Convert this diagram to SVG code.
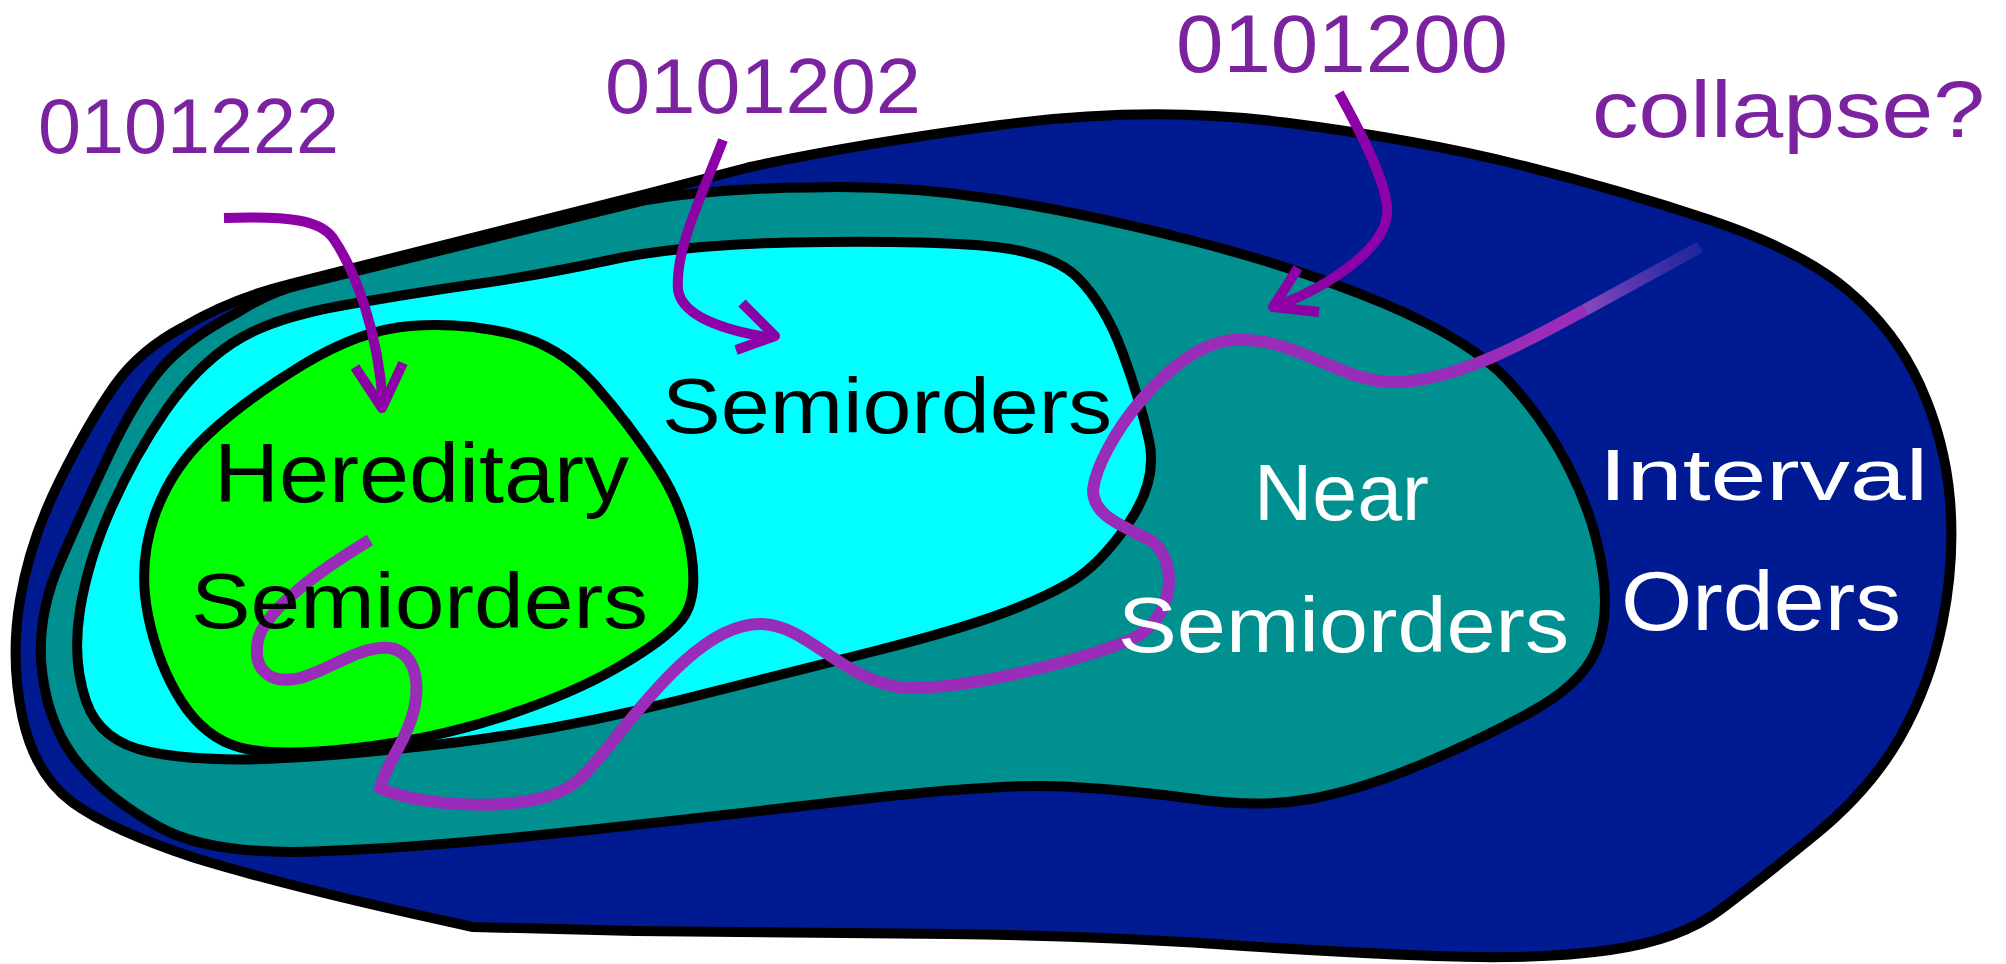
<svg xmlns="http://www.w3.org/2000/svg" width="2006" height="964" viewBox="0 0 2006 964">
<style>
.blob{stroke:#000;stroke-width:10;stroke-linejoin:round}
.lbl{font-family:"Liberation Sans","DejaVu Sans",sans-serif}
.pl{fill:#7b22a0}
.bk{fill:#000}
.wh{fill:#fff}
.arr{fill:none;stroke:#8c02a6;stroke-width:10;stroke-linecap:butt;stroke-linejoin:round}
.wave{fill:none;stroke:#9a2cba;stroke-width:12;stroke-linecap:butt;stroke-linejoin:round}
</style>
<defs>
<linearGradient id="fade" gradientUnits="userSpaceOnUse" x1="1585" y1="310" x2="1700" y2="247">
<stop offset="0" stop-color="#9a4cc4" stop-opacity="0.9"/>
<stop offset="1" stop-color="#5a3ab0" stop-opacity="0.35"/>
</linearGradient>
</defs>
<rect width="2006" height="964" fill="#fff"/>
<g id="interval-orders">
<path class="blob" fill="#001a91" d="M 646,194 L 748,167.5 Q 850,145 1000,125 Q 1150,105 1285,122.5 Q 1420,140 1520,165 Q 1620,190 1710,220 Q 1800,250 1847.5,290 Q 1895,330 1920,385 Q 1945,440 1950,500 Q 1955,560 1942.5,622.5 Q 1930,685 1900,737.5 Q 1870,790 1815,835 Q 1760,880 1720,910 Q 1680,940 1610,950 Q 1540,960 1435,956 Q 1330,952 1215,944 Q 1100,936 950,934 Q 800,932 635,931 L 473,927 Q 300,890 195,858 Q 110,830 72.5,802.5 Q 35,775 22.5,717.5 Q 10,660 20,600 Q 30,540 60,480 Q 90,420 115,385 Q 140,350 182.5,327.5 Q 230,299 290,284 L 646,194 Z"/>
</g>
<g id="near-semiorders">
<path class="blob" fill="#009090" d="M 810,187.5 Q 900,185 990,198.5 Q 1080,212 1190,240 Q 1300,268 1385,304 Q 1470,340 1507.5,380 Q 1545,420 1570,470 Q 1595,520 1602.5,570 Q 1610,620 1595,652.5 Q 1580,685 1530,712.5 Q 1480,740 1420,765 Q 1360,790 1310,799 Q 1260,808 1195,799 Q 1130,790 1065,786.5 Q 1000,783 850,800.5 Q 700,818 560,833 Q 420,848 315,851.5 Q 210,855 160,827.5 Q 110,800 80,765 Q 50,730 42.5,675 Q 35,620 60,562.5 Q 85,505 110,452.5 Q 135,400 160,370 Q 185,340 237.5,312.5 Q 270,292 300,285 L 646,200 Q 720,188 810,187.5 Z"/>
</g>
<g id="semiorders">
<path class="blob" fill="#00ffff" d="M 790,242.5 Q 900,240 975,245 Q 1050,250 1077.5,277.5 Q 1105,305 1122.5,352.5 Q 1140,400 1149,440 Q 1158,480 1129,522.5 Q 1100,565 1070,582.5 Q 1040,600 995,616 Q 950,632 875,651 Q 800,670 680,700 Q 560,730 455,742.5 Q 350,755 275,758.5 Q 200,762 150,752 Q 100,742 86,701 Q 72,660 80,610 Q 88,560 111.5,507.5 Q 135,455 165,411.5 Q 195,368 232.5,343 Q 270,318 345,305 Q 420,292 480,283.5 Q 540,275 610,260 Q 680,245 790,242.5 Z"/>
</g>
<g id="hereditary-semiorders">
<path class="blob" fill="#00ff00" d="M 410,326 Q 460,322 510,333.5 Q 560,345 595,385 Q 630,425 657.5,467.5 Q 685,510 691.5,555 Q 698,600 681.5,620 Q 665,640 617.5,667.5 Q 570,695 500,717.5 Q 430,740 352.5,748.5 Q 275,757 240,747.5 Q 205,738 181.5,701.5 Q 158,665 148,615 Q 138,565 154,517.5 Q 170,470 207.5,435 Q 245,400 302.5,365 Q 360,330 410,326 Z"/>
</g>
<g id="connectors">
<path class="wave" d="M 370,540 C 320,570 265,610 258,640 C 252,670 270,685 300,678 C 330,670 360,645 390,648 C 412,652 420,675 415,705 C 408,740 385,765 380,788 C 420,806 500,810 545,797 C 570,790 580,780 595,763 C 640,710 700,622 762,624 C 810,626 840,680 905,688 C 970,690 1080,660 1130,640 C 1175,620 1180,560 1150,540 C 1120,525 1093,515 1093,490 C 1098,445 1170,345 1233,340 C 1300,336 1340,385 1400,382 C 1460,379 1530,340 1585,310"/>
<path d="M 1585,310 L 1700,247" fill="none" stroke="url(#fade)" stroke-width="12"/>
<path class="arr" d="M 224,218 C 290,216 320,220 333,238 C 355,270 378,330 383,405"/>
<polyline class="arr" points="355,367 382,408 403,363"/>
<path class="arr" d="M 723,140 C 700,200 675,250 678,290 C 682,315 720,330 772,338"/>
<polyline class="arr" points="742,303 775,336 736,350"/>
<path class="arr" d="M 1339,93 C 1365,140 1390,190 1387,215 C 1383,250 1330,285 1280,305"/>
<polyline class="arr" points="1298,268 1273,307 1319,312"/>
</g>
<g id="labels" class="lbl">
<text class="pl" x="38" y="153" font-size="78" textLength="301" lengthAdjust="spacingAndGlyphs">0101222</text>
<text class="pl" x="605" y="113" font-size="78" textLength="316" lengthAdjust="spacingAndGlyphs">0101202</text>
<text class="pl" x="1176" y="72" font-size="82" textLength="332" lengthAdjust="spacingAndGlyphs">0101200</text>
<text class="pl" x="1592" y="137" font-size="80" textLength="393" lengthAdjust="spacingAndGlyphs">collapse?</text>
<text class="bk" x="662" y="433" font-size="78" textLength="450" lengthAdjust="spacingAndGlyphs">Semiorders</text>
<text class="bk" x="214" y="502" font-size="84" textLength="415" lengthAdjust="spacingAndGlyphs">Hereditary</text>
<text class="bk" x="191" y="628" font-size="78" textLength="457" lengthAdjust="spacingAndGlyphs">Semiorders</text>
<text class="wh" x="1254" y="520" font-size="80" textLength="175" lengthAdjust="spacingAndGlyphs">Near</text>
<text class="wh" x="1118" y="652" font-size="78" textLength="451" lengthAdjust="spacingAndGlyphs">Semiorders</text>
<text class="wh" x="1599" y="500" font-size="73" textLength="329" lengthAdjust="spacingAndGlyphs">Interval</text>
<text class="wh" x="1621" y="630" font-size="84" textLength="280" lengthAdjust="spacingAndGlyphs">Orders</text>
</g>
</svg>
